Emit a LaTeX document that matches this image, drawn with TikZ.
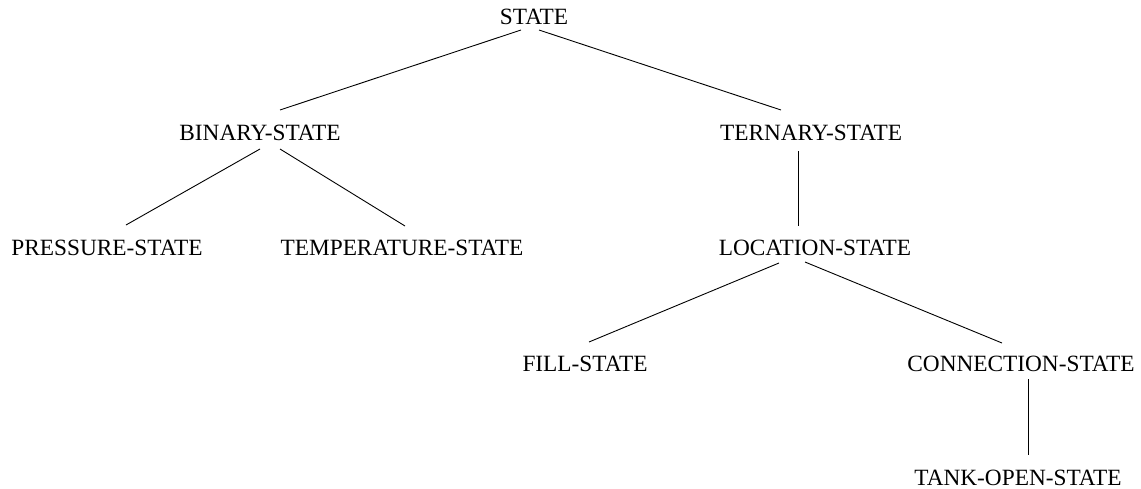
\documentclass[tikz,border=0pt]{standalone}
\usepackage{fontspec}
\setmainfont{Liberation Serif}
\begin{document}
\begin{tikzpicture}[x=1pt,y=1pt,
  lbl/.style={anchor=base,inner sep=0pt,font=\fontsize{23.3}{27}\selectfont},
  edge/.style={line width=0.9pt,black}]
\useasboundingbox (0,0) rectangle (1141,-488);
\node[lbl] (state) at (534,-24) {STATE};
\node[lbl] (binary) at (260,-140) {BINARY-STATE};
\node[lbl] (ternary) at (811,-140) {TERNARY-STATE};
\node[lbl] (pressure) at (107,-255) {PRESSURE-STATE};
\node[lbl] (temperature) at (402,-255) {TEMPERATURE-STATE};
\node[lbl] (location) at (815,-255) {LOCATION-STATE};
\node[lbl] (fill) at (585,-371) {FILL-STATE};
\node[lbl] (connection) at (1021,-371) {CONNECTION-STATE};
\node[lbl] (tank) at (1018,-485) {TANK-OPEN-STATE};
\draw[edge] ([shift={(-13,-6)}]state.base) -- ([shift={(20,30)}]binary.base);
\draw[edge] ([shift={(5,-6)}]state.base) -- ([shift={(-30,30)}]ternary.base);
\draw[edge] ([shift={(0,-9)}]binary.base) -- ([shift={(19,30)}]pressure.base);
\draw[edge] ([shift={(20,-9)}]binary.base) -- ([shift={(3,29)}]temperature.base);
\draw[edge] ([shift={(-13,-11)}]ternary.base) -- ([shift={(-17,29)}]location.base);
\draw[edge] ([shift={(-36,-8)}]location.base) -- ([shift={(4,29)}]fill.base);
\draw[edge] ([shift={(-10,-7)}]location.base) -- ([shift={(-19,28)}]connection.base);
\draw[edge] ([shift={(7,-8)}]connection.base) -- ([shift={(10,30)}]tank.base);
\end{tikzpicture}
\end{document}
